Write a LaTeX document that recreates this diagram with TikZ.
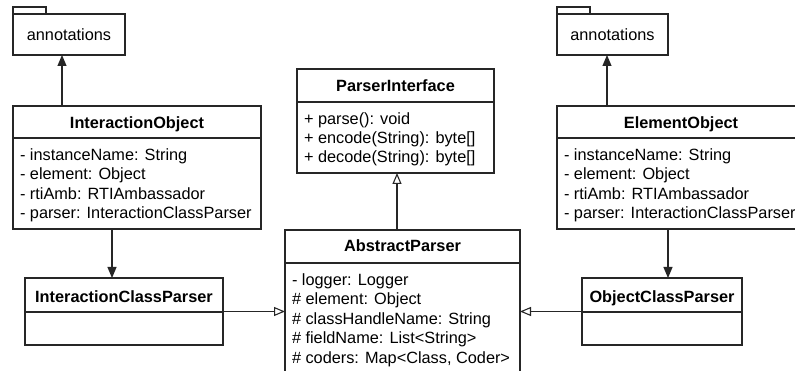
\documentclass[tikz,border=0pt]{standalone}
\usepackage{fontspec}
\setmainfont{Liberation Sans}
\usetikzlibrary{arrows.meta,shadows}
\begin{document}
\begin{tikzpicture}[x=1pt,y=-1pt,
  line width=1.1pt,
  every node/.style={font=\fontsize{16.3}{19.3}\selectfont, inner sep=0pt, outer sep=0pt},
  shade/.style={drop shadow={shadow xshift=1pt, shadow yshift=-1pt, fill=black, opacity=0.18}},
  box/.style={draw=black!85, fill=white, rectangle, anchor=north west, shade},
  title/.style={font=\fontsize{16.3}{19.3}\selectfont\bfseries, anchor=base},
  item/.style={anchor=base west},
  assoc/.style={draw=black!85, -{Triangle[length=11pt,width=9pt]}},
  gener/.style={draw=black!85, -{Triangle[open,length=11pt,width=9pt,fill=white]}},
]
\useasboundingbox (0,0) rectangle (795,371);
\clip (0,0) rectangle (795,371);
\fill[white] (0,0) rectangle (795,371);

% ---------- left package ----------
\node[box, minimum width=33pt, minimum height=7pt] (tabL) at (13,7) {};
\node[box, minimum width=112pt, minimum height=41pt] (annL) at (13,14) {};
\node[anchor=base] (annLt) at (69,41) {annotations};

% ---------- right package ----------
\node[box, minimum width=33pt, minimum height=7pt] (tabR) at (557,7) {};
\node[box, minimum width=111pt, minimum height=41pt] (annR) at (557,14) {};
\node[anchor=base] (annRt) at (612.5,41) {annotations};

% ---------- InteractionObject ----------
\node[box, minimum width=248pt, minimum height=123pt] (io) at (13,106) {};
\draw[draw=black!85] ([yshift=-32pt]io.north west) -- ([yshift=-32pt]io.north east);
\node[title] (iot) at (137,129) {InteractionObject};
\node[item] (io1) at (20,161) {- instanceName: String};
\node[item] (io2) at (20,180) {- element: Object};
\node[item] (io3) at (20,200) {- rtiAmb: RTIAmbassador};
\node[item] (io4) at (20,219) {- parser: InteractionClassParser};

% ---------- ElementObject ----------
\node[box, minimum width=248pt, minimum height=123pt] (eo) at (557,106) {};
\draw[draw=black!85] ([yshift=-32pt]eo.north west) -- ([yshift=-32pt]eo.north east);
\node[title] (eot) at (681,129) {ElementObject};
\node[item] (eo1) at (564,161) {- instanceName: String};
\node[item] (eo2) at (564,180) {- element: Object};
\node[item] (eo3) at (564,200) {- rtiAmb: RTIAmbassador};
\node[item] (eo4) at (564,219) {- parser: InteractionClassParser};

% ---------- ParserInterface ----------
\node[box, minimum width=197pt, minimum height=104pt] (pi) at (297,69) {};
\draw[draw=black!85] ([yshift=-33pt]pi.north west) -- ([yshift=-33pt]pi.north east);
\node[title] (pit) at (395.5,92) {ParserInterface};
\node[item] (pi1) at (304,125) {+ parse(): void};
\node[item] (pi2) at (304,144) {+ encode(String): byte[]};
\node[item] (pi3) at (304,163) {+ decode(String): byte[]};

% ---------- AbstractParser ----------
\node[box, minimum width=235pt, minimum height=170pt] (ap) at (285,230) {};
\draw[draw=black!85] ([yshift=-33pt]ap.north west) -- ([yshift=-33pt]ap.north east);
\node[title] (apt) at (402.5,252) {AbstractParser};
\node[item] (ap1) at (292,286) {- logger: Logger};
\node[item] (ap2) at (292,305) {\# element: Object};
\node[item] (ap3) at (292,324) {\# classHandleName: String};
\node[item] (ap4) at (292,343) {\# fieldName: List<String>};
\node[item] (ap5) at (292,363) {\# coders: Map<Class, Coder>};

% ---------- InteractionClassParser ----------
\node[box, minimum width=198pt, minimum height=67pt] (icp) at (25,278) {};
\draw[draw=black!85] ([yshift=-34pt]icp.north west) -- ([yshift=-34pt]icp.north east);
\node[title] (icpt) at (124,302) {InteractionClassParser};

% ---------- ObjectClassParser ----------
\node[box, minimum width=160pt, minimum height=67pt] (ocp) at (582,278) {};
\draw[draw=black!85] ([yshift=-34pt]ocp.north west) -- ([yshift=-34pt]ocp.north east);
\node[title] (ocpt) at (662,302) {ObjectClassParser};

% ---------- connectors ----------
\draw[assoc] ([xshift=49pt]io.north west) coordinate (a1) -- (a1 |- annL.south);
\draw[assoc] ([xshift=50pt]eo.north west) coordinate (a2) -- (a2 |- annR.south);
\draw[assoc] ([xshift=99pt]io.south west) coordinate (a3) -- (a3 |- icp.north);
\draw[assoc] ([xshift=111pt]eo.south west) coordinate (a4) -- (a4 |- ocp.north);
\draw[gener] ([xshift=112pt]ap.north west) coordinate (a5) -- (a5 |- pi.south);
\draw[gener] (icp.east) -- (icp.east -| ap.west);
\draw[gener] (ocp.west) -- (ocp.west -| ap.east);
\end{tikzpicture}
\end{document}
